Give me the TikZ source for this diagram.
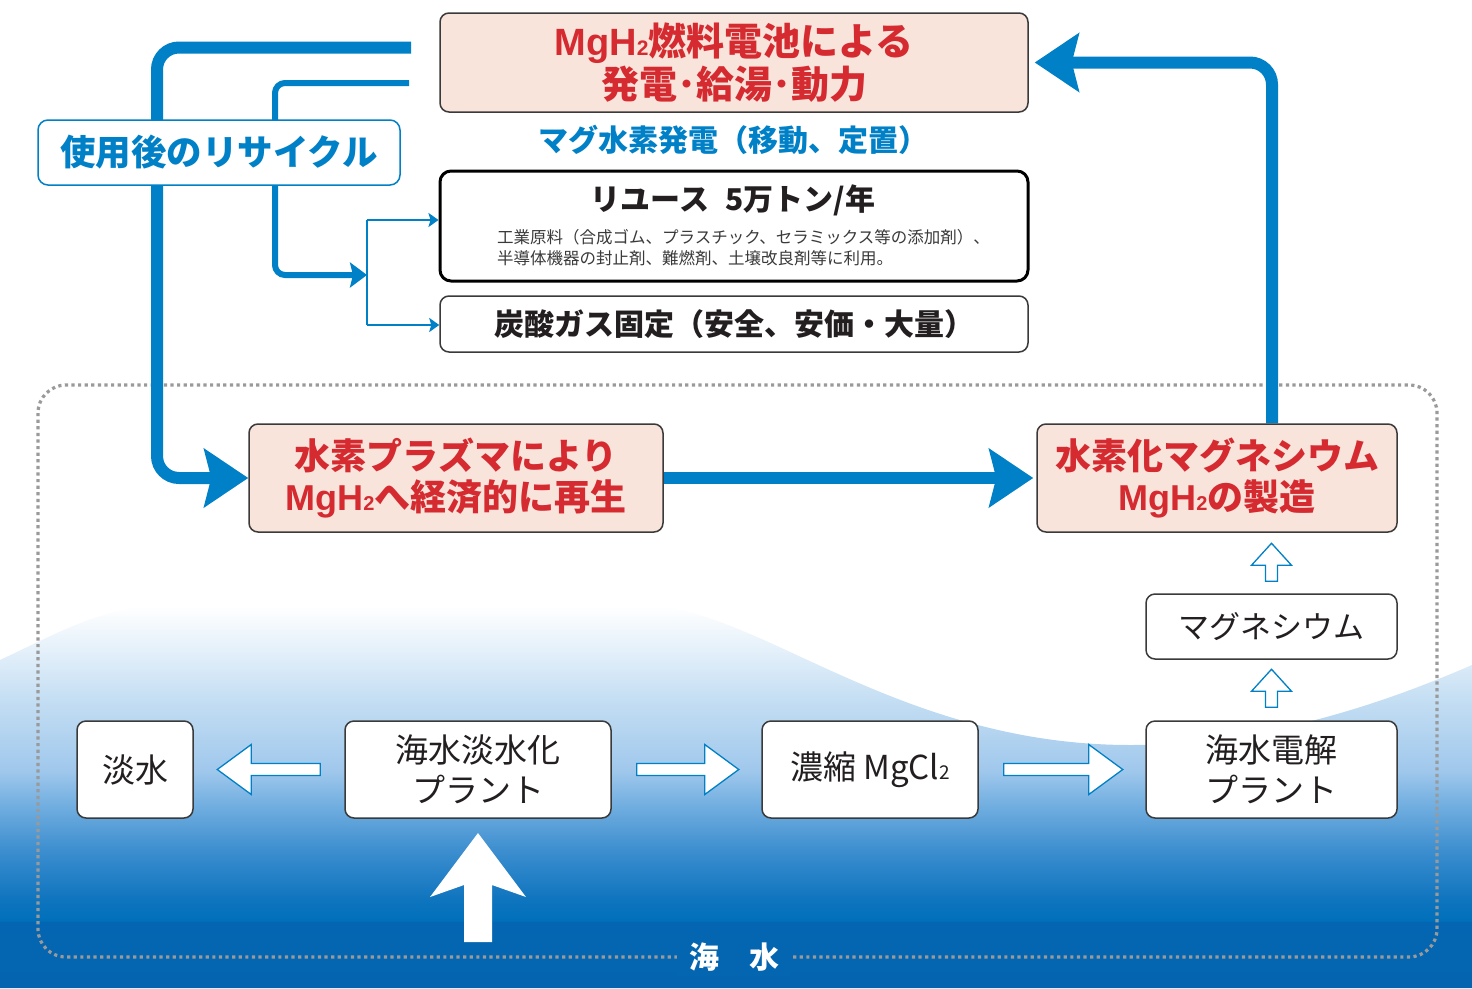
\documentclass[tikz,border=0pt]{standalone}
\usepackage{fontspec}
\setmainfont{Noto Sans CJK JP}
\newfontfamily\latf{Liberation Sans}[BoldFont={Liberation Sans Bold}]
\usetikzlibrary{arrows.meta,calc}
\pgfdeclarelayer{bg}
\pgfsetlayers{bg,main}
\definecolor{blueL}{HTML}{0080C6}
\definecolor{redT}{HTML}{D42A30}
\definecolor{pinkF}{HTML}{F9E4DC}
\definecolor{boxD}{HTML}{3A3A3A}
\definecolor{txtK}{HTML}{231F20}
\definecolor{txtG}{HTML}{3A3A3A}
\definecolor{dotG}{HTML}{9A9A9A}
\definecolor{seaB}{RGB}{4,101,176}
\definecolor{seaA}{RGB}{4,100,175}
\definecolor{seaC}{RGB}{4,102,178}
\definecolor{seaD}{RGB}{0,112,187}
\definecolor{seaE}{RGB}{14,116,190}
\definecolor{seaF}{RGB}{60,142,207}
\definecolor{seaG}{RGB}{120,178,226}
\definecolor{seaH}{RGB}{160,200,236}
\definecolor{seaI}{RGB}{196,222,243}
\definecolor{seaJ}{RGB}{228,240,250}
\pgfdeclareverticalshading{sea}{100bp}{color(0bp)=(seaA); color(25bp)=(seaA); color(33.7bp)=(seaC); color(33.8bp)=(seaD); color(36.5bp)=(seaE); color(43bp)=(seaF); color(49.6bp)=(seaG); color(53.5bp)=(seaH); color(62.7bp)=(seaI); color(69.2bp)=(seaJ); color(75bp)=(white); color(100bp)=(white)}
\newcommand{\subtwo}[1]{{\fontsize{#1}{#1}\selectfont 2}}
\newcommand{\mgh}[1]{{\latf\bfseries MgH\subtwo{#1}}}
\tikzset{
  box/.style={draw=boxD, line width=1.5, fill=white, rounded corners=9, inner sep=0pt},
  pbox/.style={box, fill=pinkF, text=redT, align=center, font=\bfseries\fontsize{36}{41}\selectfont},
  wbox/.style={box, text=txtK, align=center, font=\fontsize{33}{40}\selectfont},
  thickline/.style={draw=blueL, line width=12, rounded corners=22},
  midline/.style={draw=blueL, line width=6, rounded corners=10},
  thinline/.style={draw=blueL, line width=2.2},
  bigtip/.tip={Stealth[length=44pt, width=58pt, inset=7pt]},
  midtip/.tip={Stealth[length=17pt, width=25pt, inset=3pt]},
  smalltip/.tip={Stealth[length=10pt, width=14pt, inset=2pt]},
  dotline/.style={draw=dotG, line width=3.2, dash pattern=on 3.2pt off 3.4pt, rounded corners=28},
  pics/harrow/.style n args={3}{code={
    \draw[draw=blueL, fill=white, line width=1.3, line join=miter]
      (0,-6) -- ({#1-#2},-6) -- ({#1-#2},-#3) -- (#1,0) -- ({#1-#2},#3) -- ({#1-#2},6) -- (0,6) -- cycle;
  }}
}
\begin{document}
\begin{tikzpicture}[x=1pt,y=-1pt, every node/.style={inner sep=0pt}]
\useasboundingbox (0,0) rectangle (1472,988);

% ---- nodes ----
\node[pbox, minimum width=588, minimum height=99, font=\bfseries\fontsize{38}{43}\selectfont] (T) at (734,62.5)
  {\mgh{21}燃料電池による\\発電･給湯･動力};
\node[text=blueL, font=\bfseries\fontsize{30}{30}\selectfont] (blue) at (733,140) {マグ水素発電（移動、定置）};
\node[box, draw=black, line width=3, rounded corners=11, minimum width=588, minimum height=110] (R) at (734,226) {};
\node[text=txtK, font=\bfseries\fontsize{30}{30}\selectfont] (Rt) at (733,200) {リユース\hspace{16pt}5万トン/年};
\node[anchor=west, align=left, text=txtG, font=\fontsize{16.5}{21}\selectfont] (Rs) at (497,247.5)
  {工業原料（合成ゴム、プラスチック、セラミックス等の添加剤）、\\半導体機器の封止剤、難燃剤、土壌改良剤等に利用。};
\node[box, minimum width=588, minimum height=56, text=txtK, font=\bfseries\fontsize{30}{30}\selectfont] (C) at (734,324)
  {炭酸ガス固定（安全、安価・大量）};
\node[box, draw=blueL, line width=1.5, rounded corners=10, minimum width=362, minimum height=65, text=blueL,
  font=\bfseries\fontsize{35.5}{35.5}\selectfont] (L) at (219,152.5) {使用後のリサイクル};

\node[pbox, minimum width=414, minimum height=108] (G) at (456,478) {水素プラズマにより\\\mgh{20}へ経済的に再生};
\node[pbox, minimum width=360, minimum height=108] (H) at (1217,478) {水素化マグネシウム\\\mgh{20}の製造};
\node[wbox, minimum width=251, minimum height=65, font=\fontsize{31}{31}\selectfont] (M) at (1271.5,626.5) {マグネシウム};
\node[wbox, minimum width=251, minimum height=97] (E) at (1271.5,769.5) {海水電解\\プラント};
\node[wbox, minimum width=216, minimum height=97] (K) at (870,769.5) {濃縮 MgCl\subtwo{19}};
\node[wbox, minimum width=266, minimum height=97] (D) at (478,769.5) {海水淡水化\\プラント};
\node[wbox, minimum width=116, minimum height=97] (F) at (135,769.5) {淡水};

% hollow arrows
\pic[rotate=180] at ([xshift=-24pt]D.west) {harrow={103}{34}{25}};
\pic at ([xshift=25pt]D.east) {harrow={102}{34}{25}};
\pic at ([xshift=25pt]K.east) {harrow={119}{34}{25}};
\pic[rotate=90] at ([yshift=13pt]E.north) {harrow={38}{22}{20}};
\pic[rotate=90] at ([yshift=12pt]M.north) {harrow={38}{22}{20}};

% ---- background and connectors ----
\begin{pgfonlayer}{bg}
  \fill[white] (0,0) rectangle (1472,988);
  \shade[shading=sea] (0,660) .. controls (60,632) and (100,608) .. (160,606) -- (650,606)
     .. controls (760,610) and (900,745) .. (1130,745)
     .. controls (1260,745) and (1380,705) .. (1472,665) -- (1472,988) -- (0,988) -- cycle;
  \draw[dotline] (38,385) rectangle (1437,957);
  \node[fill=seaB, text=white, inner xsep=12pt, inner ysep=5pt, font=\bfseries\fontsize{30}{30}\selectfont] (sea) at (734,957) {海\hspace{30pt}水};
  % big white arrow from the sea
  \fill[white] (464,942) -- (464,885) -- (430,897) -- (478,833) -- (526,897) -- (492,885) -- (492,942) -- cycle;

  \coordinate (s1) at (411,47.5);
  \coordinate (s2) at (409,83);
  \coordinate (sp) at (367,275);
  \coordinate (b1) at (367,220);
  \coordinate (b2) at (367,325);
  \draw[thickline, -{bigtip}] (s1) -- (157,47.5) -- (157,478) -- (G.west);
  \draw[thickline, -{bigtip}] (G.east) -- ([xshift=-3pt]H.west);
  \draw[thickline, -{bigtip}] ([xshift=55pt]H.north) |- ([xshift=6pt]T.east);
  \draw[midline, -{midtip}] (s2) -- (275,83) -- (275,275) -- (sp);
  \draw[thinline] (b1) -- (b2);
  \draw[thinline, -{smalltip}] (b1) -- (R.west |- b1);
  \draw[thinline, -{smalltip}] (b2) -- (C.west |- b2);
\end{pgfonlayer}
\end{tikzpicture}
\end{document}
